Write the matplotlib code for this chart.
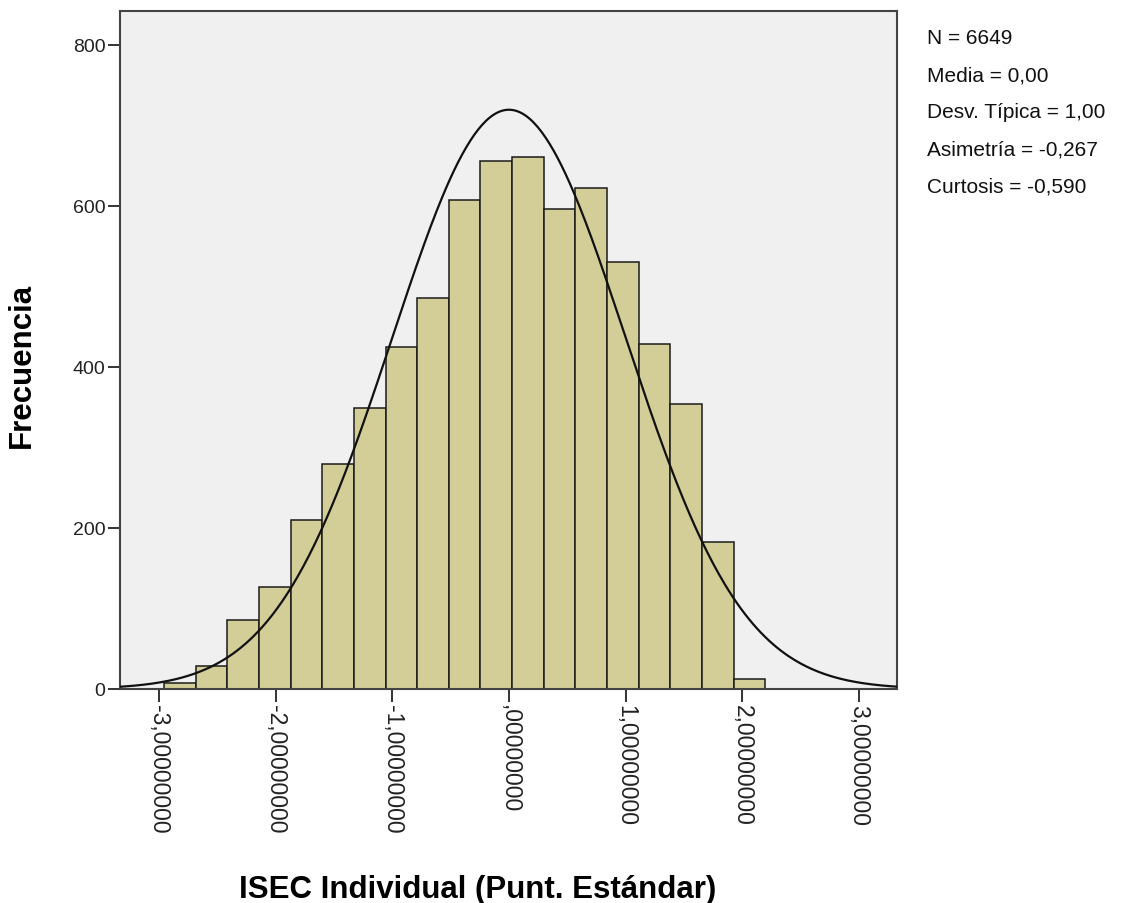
import numpy as np
import matplotlib.pyplot as plt

plt.rcParams['font.family'] = ['Liberation Sans', 'DejaVu Sans']

# histogram data
bin_start = -2.956
bin_width = 0.2712
counts = [8, 29, 86, 127, 210, 280, 349, 425, 486, 607,
          656, 661, 596, 622, 530, 428, 354, 182, 13]

n_total = 6649
media = 0.0
desv = 1.0
stats_lines = ["N = 6649", "Media = 0,00", "Desv. Típica = 1,00",
               "Asimetría = -0,267", "Curtosis = -0,590"]

xticks = [-3, -2, -1, 0, 1, 2, 3]
xtick_labels = ["-3,00000000", "-2,00000000", "-1,00000000", ",00000000",
                "1,00000000", "2,00000000", "3,00000000"]
yticks = [0, 200, 400, 600, 800]

fig = plt.figure(figsize=(11.24, 9.04), dpi=100)
ax = fig.add_axes([120/1124, 1 - 690/904, (897-120)/1124, (690-12)/904])
ax.set_facecolor('#f0f0f0')

edges = bin_start + bin_width * np.arange(len(counts) + 1)
ax.bar(edges[:-1], counts, width=bin_width, align='edge',
       color='#d3ce97', edgecolor='#1a1a1a', linewidth=1.1, zorder=2)

# fitted normal curve
xs = np.linspace(-3.4, 3.4, 400)
pdf = np.exp(-0.5 * ((xs - media) / desv) ** 2) / (desv * np.sqrt(2 * np.pi))
ax.plot(xs, n_total * bin_width * pdf, color='#111111', linewidth=1.6, zorder=3)

ax.set_xlim(-3.333, 3.325)
ax.set_ylim(0, 842)
ax.set_xticks(xticks)
ax.set_xticklabels(xtick_labels, rotation=-90, va='top', ha='center',
                   fontsize=16.5)
ax.set_yticks(yticks)
ax.tick_params(axis='both', direction='out', length=9, width=1.4,
               color='#333333', labelcolor='#222222', pad=1.5)
ax.tick_params(axis='y', labelsize=14)
for s in ax.spines.values():
    s.set_color('#444444')
    s.set_linewidth(1.5)

fig.text(478/1124, 1 - 898/904, 'ISEC Individual (Punt. Estándar)',
         ha='center', va='baseline', fontsize=22.5, fontweight='bold')
fig.text(22/1124, 1 - 365/904, 'Frecuencia', rotation=90,
         ha='center', va='center', fontsize=22.5, fontweight='bold')

for i, line in enumerate(stats_lines):
    fig.text(927/1124, 1 - (39 + i * 37)/904, line, ha='left', va='center',
             fontsize=15, color='#111111')

fig.savefig('out.png', dpi=100, facecolor='white')
